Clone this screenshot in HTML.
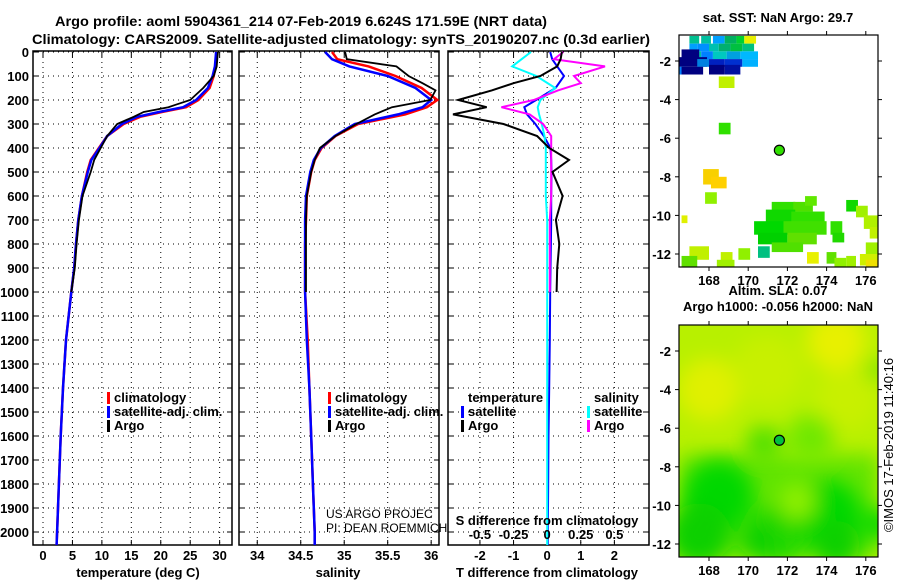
<!DOCTYPE html>
<html><head><meta charset="utf-8"><style>
html,body{margin:0;padding:0;background:#fff;}
svg{display:block;font-family:"Liberation Sans",sans-serif;font-weight:bold;}
</style></head><body>
<svg id="fig" width="900" height="580" viewBox="0 0 900 580" xmlns="http://www.w3.org/2000/svg">
<text x="301" y="26" font-size="14" text-anchor="middle" textLength="492" lengthAdjust="spacingAndGlyphs">Argo profile: aoml 5904361_214 07-Feb-2019 6.624S 171.59E (NRT data)</text>
<text x="341" y="44" font-size="14" text-anchor="middle" textLength="618" lengthAdjust="spacingAndGlyphs">Climatology: CARS2009. Satellite-adjusted climatology: synTS_20190207.nc (0.3d earlier)</text>
<g id="plots"></g>
<text x="0" y="0" font-size="13" font-weight="normal" transform="translate(893,445) rotate(-90)" text-anchor="middle">©IMOS 17-Feb-2019 11:40:16</text>
</svg>
<script>
// ---------- data ----------
const depthTicks = [0,100,200,300,400,500,600,700,800,900,1000,1100,1200,1300,1400,1500,1600,1700,1800,1900,2000];
const tempTicks = [0,5,10,15,20,25,30];
const salTicks = [34,34.5,35,35.5,36];
const salTickLabels = ["34","34.5","35","35.5","36"];
const tdiffTicks = [-2,-1,0,1,2];
const sdiffTicks = [-0.5,-0.25,0,0.25,0.5];
const sdiffTickLabels = ["-0.5","-0.25","0","0.25","0.5"];

const tempDepth = [0,30,60,100,150,200,230,250,270,300,350,400,450,500,600,700,800,900,1000,1200,1400,1600,1800,2000,2054];
const climTemp  = [29.5,29.4,29.3,29.0,28.3,26.4,24.3,20.2,16.5,13.7,10.9,9.5,8.1,7.5,6.6,6.0,5.6,5.3,4.8,3.9,3.4,3.0,2.7,2.4,2.3];
const satTemp   = [29.4,29.3,29.2,28.8,28.0,26.0,23.8,19.7,16.0,13.4,10.9,9.6,8.2,7.6,6.6,6.0,5.6,5.3,4.8,3.9,3.4,3.0,2.7,2.4,2.3];
const argoTDepth = [0,30,60,100,150,200,220,230,250,270,300,350,400,450,500,600,700,800,900,1000];
const argoTemp  = [29.7,29.6,29.5,29.0,27.2,25.0,22.5,21.3,17.1,15.4,12.6,10.9,9.8,8.7,8.1,6.7,6.1,5.7,5.4,4.8];

const climDepth = [0,30,60,100,150,200,230,260,300,350,400,450,500,600,700,800,900,1000,1200,1400,1600,1800,2000,2054];
const argoDepth = [0,30,60,100,130,160,200,230,260,300,350,400,450,500,600,700,800,900,1000];
const climSal = [34.86,34.92,35.28,35.59,35.89,36.07,35.95,35.70,35.16,34.90,34.74,34.66,34.62,34.57,34.56,34.55,34.55,34.55,34.58,34.60,34.62,34.64,34.66,34.66];
const satSal  = [34.78,34.86,35.06,35.50,35.82,36.00,35.90,35.62,35.12,34.89,34.73,34.65,34.61,34.56,34.55,34.55,34.55,34.55,34.57,34.60,34.62,34.64,34.66,34.66];
const argoSal = [35.01,35.03,35.60,35.74,35.90,36.05,35.99,35.55,35.35,35.14,34.90,34.72,34.66,34.62,34.57,34.56,34.56,34.56,34.56];

const tdiffArgo = [0.44,0.40,0.30,-0.20,-1.0,-1.65,-2.65,-1.8,-2.8,-1.3,-0.3,0.06,0.65,0.16,0.46,0.26,0.36,0.30,0.28];
const sdiffArgo = [0.12,0.05,0.43,0.20,0.25,0.08,-0.10,-0.34,-0.13,-0.03,0.03,0.03,0.03,0.03,0.03,0.02,0.02,0.02,0.02];
const tdiffSat = [0.09,0.15,0.30,0.50,0.25,-0.33,-0.68,-0.60,-0.35,-0.10,0.10,0.12,0.13,0.12,0.12,0.11,0.10,0.09,0.08,0.06,0.04,0.03,0.02,0.02];
const sdiffSat = [-0.12,-0.19,-0.26,-0.08,0.06,-0.05,-0.07,-0.06,-0.04,-0.02,-0.01,-0.01,-0.01,-0.01,0.0,0.0,0.0,0.0,0.0,0.0,0.0,0.0,0.0,0.0];

// Map data
const lonTicks = [168,170,172,174,176];
const latTicks = [-2,-4,-6,-8,-10,-12];
const floatLon = [171.59];
const floatLat = [-6.624];
const sstCells = [
 [167.0,-0.7,0.5,0.4,"#00c090"],[167.6,-0.7,0.5,0.4,"#00c0a0"],[168.2,-0.7,0.6,0.4,"#00a0ff"],[168.8,-0.7,0.6,0.4,"#00b060"],[169.4,-0.7,0.4,0.4,"#00d030"],[169.8,-0.7,0.6,0.4,"#e8f000"],
 [167.0,-1.1,0.4,0.4,"#00a0ff"],[167.4,-1.1,0.6,0.4,"#0090ff"],[168.0,-1.1,0.5,0.4,"#00c0b0"],[168.5,-1.1,0.6,0.4,"#00b070"],[169.1,-1.1,0.6,0.4,"#00c040"],[169.7,-1.1,0.6,0.4,"#00c080"],
 [167.0,-1.5,0.6,0.4,"#00c0a0"],[167.6,-1.5,0.6,0.4,"#0080ff"],[168.2,-1.5,0.7,0.4,"#00c8c0"],[168.9,-1.5,0.7,0.4,"#00a0e0"],[169.6,-1.5,0.9,0.4,"#00b8ff"],
 [166.6,-1.4,0.9,0.5,"#000080"],[166.3,-1.8,1.6,0.5,"#000080"],[167.4,-1.9,0.6,0.4,"#0080e0"],[168.0,-1.9,0.8,0.4,"#0020c0"],[168.8,-1.9,0.9,0.4,"#0030d0"],[169.7,-1.9,0.8,0.4,"#00b0ff"],
 [166.3,-2.3,0.5,0.4,"#0080ff"],[166.6,-2.3,1.1,0.4,"#000080"],[168.0,-2.2,0.8,0.5,"#000080"],[168.8,-2.2,0.8,0.5,"#0010a0"],
 [168.5,-2.8,0.8,0.6,"#c0f000"],
 [168.5,-5.2,0.6,0.6,"#30e000"],
 [167.7,-7.6,0.8,0.8,"#f8d000"],[168.1,-8.0,0.8,0.6,"#ffd000"],[167.8,-8.8,0.6,0.6,"#90f000"],
 [166.6,-10.0,0.3,0.4,"#e0f000"],
 [171.2,-9.3,1.2,0.6,"#30e000"],[172.3,-9.3,1.0,0.5,"#50e000"],[172.9,-9.0,0.6,0.5,"#60e800"],[170.9,-9.7,1.5,0.7,"#10d800"],[172.2,-9.8,1.7,0.6,"#30e000"],
 [170.3,-10.3,1.6,0.7,"#00d800"],[171.8,-10.3,2.2,0.7,"#40e000"],[170.5,-10.9,1.5,0.6,"#00d000"],[172.0,-10.9,1.5,0.6,"#60e000"],[171.2,-11.4,1.6,0.5,"#50e000"],
 [174.2,-10.3,0.6,0.7,"#30e000"],[174.3,-10.9,0.6,0.5,"#20d800"],[175.0,-9.2,0.6,0.6,"#10d800"],[175.5,-9.5,0.6,0.6,"#a0f000"],[175.9,-10.0,1.1,0.7,"#b0f000"],[176.2,-10.6,0.6,0.6,"#c0f000"],
 [176.0,-11.4,0.8,0.8,"#a0f000"],[175.7,-12.0,1.1,0.6,"#d0f000"],[176.0,-12.3,0.8,0.5,"#f0e000"],
 [167.0,-11.6,1.0,0.7,"#c0f000"],[166.6,-12.1,0.8,0.6,"#60e000"],[168.6,-11.9,0.6,0.6,"#c0f000"],[168.4,-12.3,0.9,0.6,"#a0f000"],[169.5,-11.7,0.6,0.6,"#90f000"],[170.5,-11.6,0.6,0.6,"#00c080"],
 [173.0,-11.9,0.6,0.6,"#e8f000"],[174.0,-11.9,0.5,0.6,"#60e000"],[174.4,-12.2,0.6,0.6,"#90f000"],[175.0,-12.1,0.5,0.6,"#a0f000"],
 [166.6,-12.7,0.8,0.2,"#00d000"],[168.6,-12.7,1.4,0.2,"#30e000"],[171.0,-12.7,0.8,0.2,"#d0f000"],[173.0,-12.7,0.6,0.2,"#e0f000"]
];
const slaBlobs = [
 [168,-4,1.6,"#e0f000"],[174.5,-1.5,1.5,"#e8f000"],[171,-3,1.8,"#c8f000"],[175,-4.5,1.6,"#c8f000"],
 [170.8,-6.8,0.9,"#50e000"],[173.2,-6.5,1.2,"#70e800"],[168.5,-9.5,1.8,"#00d800"],[167.5,-11.5,1.6,"#10d000"],
 [174,-10.5,1.8,"#00d800"],[174.5,-12,1.2,"#10d000"],[171.5,-11.5,1.5,"#20d800"],[170.5,-11.8,0.9,"#10d000"],
 [172.5,-9.8,0.9,"#90f000"],[176.6,-3,0.5,"#60e000"],[176.7,-11,0.8,"#00d800"]
];

// ---------- helpers ----------
const NS="http://www.w3.org/2000/svg";
const root=document.getElementById('plots');
function el(tag,attrs,parent){const e=document.createElementNS(NS,tag);for(const k in attrs)e.setAttribute(k,attrs[k]);(parent||root).appendChild(e);return e;}
const Y0=52, YS=0.24;
function yD(d){return Y0+d*YS;}
function yLab(d){return yD(d)+5;}

function panel(name,x0,x1,vmin,vmax,vticks){
  const g=el('g',{});
  
  
  const sx=v=>x0+(v-vmin)/(vmax-vmin)*(x1-x0);
  const bottom=545;
  depthTicks.forEach(d=>{
    const l=el('line',{x1:x0,x2:x1,y1:yD(d),y2:yD(d),stroke:'#000','stroke-width':1,'stroke-dasharray':'1,4'},g);
    
    
    el('line',{x1:x0,x2:x0+5,y1:yD(d),y2:yD(d),stroke:'#000'},g);
    el('line',{x1:x1-5,x2:x1,y1:yD(d),y2:yD(d),stroke:'#000'},g);
  });
  vticks.forEach(v=>{
    const l=el('line',{x1:sx(v),x2:sx(v),y1:Y0,y2:bottom,stroke:'#000','stroke-width':1,'stroke-dasharray':'1,4'},g);
    
    
    el('line',{x1:sx(v),x2:sx(v),y1:bottom,y2:bottom-5,stroke:'#000'},g);
    el('line',{x1:sx(v),x2:sx(v),y1:Y0,y2:Y0+5,stroke:'#000'},g);
  });
  const f=el('rect',{x:x0,y:Y0-1,width:x1-x0,height:bottom-Y0+1,fill:'none',stroke:'#000','stroke-width':1.5},g);
  
  
  return {g,sx};
}
function line(p,name,depths,vals,color,w){
  const pts=vals.map((v,i)=>p.sx(v).toFixed(1)+','+yD(depths[i]).toFixed(1)).join(' ');
  const l=el('polyline',{points:pts,fill:'none',stroke:color,'stroke-width':w||2,'stroke-linejoin':'miter'},p.g);
  
  
}
function text(x,y,s,opts,name){
  const t=el('text',Object.assign({x:x,y:y,'font-size':13},opts||{}));
  t.textContent=s;
  
  
  return t;
}
function legend(x,y,items,name){
  items.forEach((it,i)=>{
    const m=el('rect',{x:x,y:y+i*14-10,width:3,height:12,fill:it[1]});
    
    
    text(x+7,y+i*14,it[0],{},name+'-entry');
  });
}

// ---------- panel 1: temperature ----------
const p1=panel('temperature-panel',33,232,-1.7,32.1,tempTicks);
depthTicks.forEach(d=>text(29,yLab(d),String(d),{'text-anchor':'end'},'depth-tick-label'));
tempTicks.forEach(v=>text(p1.sx(v),560,String(v),{'text-anchor':'middle'},'temp-tick-label'));
text(138,577,'temperature (deg C)',{'text-anchor':'middle'},'temp-axis-title');
line(p1,'temp-climatology-line',tempDepth,climTemp,'#ff0000',2.5);
line(p1,'temp-satellite-line',tempDepth,satTemp,'#0000ff',2.5);
line(p1,'temp-argo-line',argoTDepth,argoTemp,'#000000',1.8);
legend(107,402,[['climatology','#ff0000'],['satellite-adj. clim.','#0000ff'],['Argo','#000']],'temp-legend');

// ---------- panel 2: salinity ----------
const p2=panel('salinity-panel',239,439,33.79,36.09,salTicks);
salTicks.forEach((v,i)=>text(p2.sx(v),560,salTickLabels[i],{'text-anchor':'middle'},'sal-tick-label'));
text(338,577,'salinity',{'text-anchor':'middle'},'sal-axis-title');
line(p2,'sal-climatology-line',climDepth,climSal,'#ff0000',2.5);
line(p2,'sal-satellite-line',climDepth,satSal,'#0000ff',2.5);
line(p2,'sal-argo-line',argoDepth,argoSal,'#000000',1.8);
legend(328,402,[['climatology','#ff0000'],['satellite-adj. clim.','#0000ff'],['Argo','#000']],'sal-legend');
text(326,518,'US ARGO PROJEC',{'font-weight':'normal','font-size':12},'project-credit');
text(326,532,'PI: DEAN ROEMMICH',{'font-weight':'normal','font-size':12},'pi-credit');

// ---------- panel 3: differences ----------
const p3=panel('difference-panel',448,649,-2.95,3.03,tdiffTicks);
const sScale=4;
const sxS=v=>p3.sx(v*sScale);
tdiffTicks.forEach(v=>text(p3.sx(v),560,String(v),{'text-anchor':'middle'},'tdiff-tick-label'));
sdiffTicks.forEach((v,i)=>text(sxS(v),539,sdiffTickLabels[i],{'text-anchor':'middle'},'sdiff-tick-label'));
text(547,525,'S difference from climatology',{'text-anchor':'middle'},'sdiff-axis-title');
text(547,577,'T difference from climatology',{'text-anchor':'middle'},'tdiff-axis-title');
line(p3,'tdiff-satellite-line',climDepth,tdiffSat,'#0000ff',2);
line(p3,'sdiff-satellite-line',climDepth,sdiffSat.map(v=>v*sScale),'#00ffff',2);
line(p3,'sdiff-argo-line',argoDepth,sdiffArgo.map(v=>v*sScale),'#ff00ff',2);
line(p3,'tdiff-argo-line',argoDepth,tdiffArgo,'#000000',2);
text(468,402,'temperature',{},'tdiff-legend-title');
legend(461,416,[['satellite','#0000ff'],['Argo','#000']],'tdiff-legend');
text(594,402,'salinity',{},'sdiff-legend-title');
legend(587,416,[['satellite','#00ffff'],['Argo','#ff00ff']],'sdiff-legend');

// ---------- maps ----------
function mapPanel(name,top,title1,title2,drawFn){
  const x0=679,x1=878,y1=top+232;
  const g=el('g',{});
  
  
  const lx=v=>709+(v-168)*19.6;
  const ly=v=>(top+26)+(-2-v)*19.3;
  const cid='clip-'+name;
  const cp=el('clipPath',{id:cid},g);el('rect',{x:x0,y:top,width:x1-x0,height:232},cp);
  const inner=el('g',{'clip-path':'url(#'+cid+')'},g);
  drawFn(inner,lx,ly);
  floatLon.forEach((lo,i)=>{
    const c=el('circle',{cx:lx(lo),cy:ly(floatLat[i]),r:5,fill:'none',stroke:'#000','stroke-width':1.2},g);
    
    
  });
  const f=el('rect',{x:x0,y:top,width:x1-x0,height:232,fill:'none',stroke:'#000','stroke-width':1.2},g);
  
  
  lonTicks.forEach(v=>{
    el('line',{x1:lx(v),x2:lx(v),y1:y1,y2:y1+4,stroke:'#000'},g);
    el('line',{x1:lx(v),x2:lx(v),y1:top,y2:top-4,stroke:'#000'},g);
    text(lx(v),y1+18,String(v),{'text-anchor':'middle'},'lon-tick-label');
  });
  latTicks.forEach(v=>{
    el('line',{x1:x0-4,x2:x0,y1:ly(v),y2:ly(v),stroke:'#000'},g);
    el('line',{x1:x1,x2:x1+4,y1:ly(v),y2:ly(v),stroke:'#000'},g);
    text(x0-8,ly(v)+5,String(v),{'text-anchor':'end'},'lat-tick-label');
  });
  if(title2){text(778,top-30,title1,{'text-anchor':'middle'},'map-title');text(778,top-14,title2,{'text-anchor':'middle'},'map-subtitle');}
  else text(778,top-13,title1,{'text-anchor':'middle'},'map-title');
}
mapPanel('sst-map',35,'sat. SST: NaN Argo: 29.7',null,(g,lx,ly)=>{
  el('rect',{x:679,y:35,width:199,height:232,fill:'#fff'},g);
  sstCells.forEach(c=>{
    const r=el('rect',{x:lx(c[0]),y:ly(c[1]),width:c[2]*19.6,height:c[3]*19.3,fill:c[4]},g);
    
    
  });
  el('circle',{cx:lx(171.59),cy:ly(-6.624),r:4.5,fill:'#30e000'},g);
});
mapPanel('sla-map',325,'Altim. SLA: 0.07','Argo h1000: -0.056 h2000: NaN',(g,lx,ly)=>{
  const defs=el('defs',{},g);
  const flt=el('filter',{id:'blur',x:'-50%',y:'-50%',width:'200%',height:'200%'},defs);
  el('feGaussianBlur',{stdDeviation:10},flt);
  el('rect',{x:679,y:325,width:199,height:232,fill:'#b8f000'},g);
  el('rect',{x:679,y:455,width:199,height:102,fill:'#60e400',filter:'url(#blur)'},g);
  const bg=el('g',{filter:'url(#blur)'},g);
  slaBlobs.forEach(b=>{
    const c=el('circle',{cx:lx(b[0]),cy:ly(b[1]),r:b[2]*19.5,fill:b[3]},bg);
    
    
  });
  el('circle',{cx:lx(171.59),cy:ly(-6.624),r:4.5,fill:'#00c040'},g);
});
</script>
</body></html>
